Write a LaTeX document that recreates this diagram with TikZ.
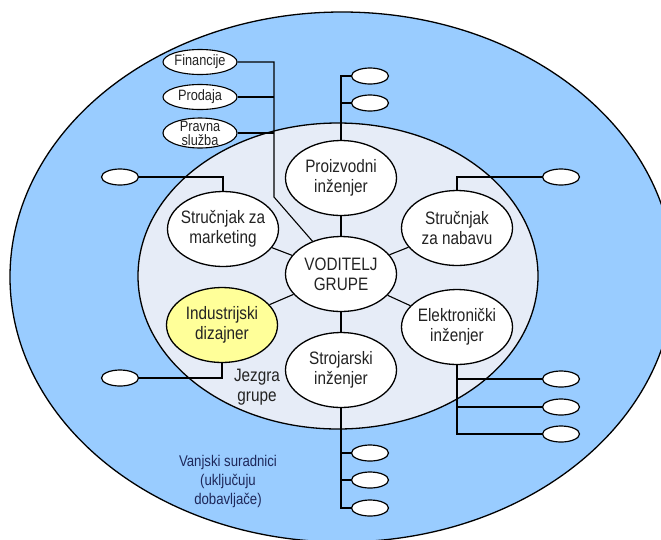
\documentclass[tikz,border=0pt]{standalone}
\usepackage{fontspec}
\setmainfont{Liberation Sans}[FakeStretch=0.85]
\usetikzlibrary{shapes.geometric}
\definecolor{outerblue}{RGB}{153,204,255}
\definecolor{innergray}{RGB}{230,236,247}
\definecolor{yell}{RGB}{255,255,153}
\definecolor{navy}{RGB}{30,40,90}
\definecolor{txt}{RGB}{35,35,35}
\begin{document}
\begin{tikzpicture}[x=1pt,y=-1pt,
  role/.style={ellipse, draw, line width=1.3pt, fill=white, minimum width=111pt, minimum height=75pt,
    inner xsep=-15pt, inner ysep=0pt, align=center, text=txt, font=\fontsize{18}{20}\selectfont},
  dept/.style={ellipse, draw, line width=1.1pt, fill=white, minimum width=74pt, minimum height=25pt,
    inner xsep=-4pt, inner ysep=-7pt, align=center, text=txt, font=\fontsize{15}{14}\selectfont},
  ext/.style={ellipse, draw, line width=1.2pt, fill=white, minimum width=37pt, minimum height=16pt, inner sep=0pt},
  link/.style={line width=1.1pt},
  lbl/.style={align=center, font=\fontsize{18}{20}\selectfont, text=txt}]
\useasboundingbox (0,0) rectangle (661,539);
\fill[white] (0,0) rectangle (661,539);
% zones
\draw[line width=1.3pt, fill=outerblue] (342,277) ellipse [x radius=332pt, y radius=265pt];
\draw[line width=1.3pt, fill=innergray] (338,276) ellipse [x radius=200pt, y radius=153pt];
% core team
\node[role] (vod) at (341,274) {VODITELJ\\GRUPE};
\node[role] (pro) at (341,178) {Proizvodni\\inženjer};
\node[role] (str) at (341,370) {Strojarski\\inženjer};
\node[role] (mark) at (223,229) {Stručnjak za\\marketing};
\node[role] (nab) at (457,228) {Stručnjak\\za nabavu};
\node[role, fill=yell] (ind) at (222,325) {Industrijski\\dizajner};
\node[role] (ele) at (457,327) {Elektronički\\inženjer};
% departments
\node[dept] (fin) at (200,62) {Financije};
\node[dept] (prod) at (200,97) {Prodaja};
\node[dept, minimum height=30pt] (prav) at (200,133) {Pravna\\služba};
% external
\node[ext] (p1) at (370,76) {};
\node[ext] (p2) at (370,103) {};
\node[ext] (sm) at (120,177) {};
\node[ext] (sn) at (561,177) {};
\node[ext] (si) at (120,378) {};
\node[ext] (st1) at (370,453) {};
\node[ext] (st2) at (370,480) {};
\node[ext] (st3) at (370,508) {};
\node[ext] (se1) at (561,379) {};
\node[ext] (se2) at (561,407) {};
\node[ext] (se3) at (561,434) {};
\coordinate (j1) at (274,197);
% labels
\node[lbl] (jez) at (257,387) {Jezgra\\grupe};
\node[align=center, font=\fontsize{15.5}{19}\selectfont, text=navy] (van) at (228,481) {Vanjski suradnici\\(uključuju\\dobavljače)};
% connectors
\draw[link] (fin.east) -| (j1) -- (vod);
\draw[link] (prod.east) -- (prod.east -| j1);
\draw[link] (prav.east) -- (prav.east -| j1);
\draw[link] (vod) -- (pro);
\draw[link] (vod) -- (str);
\draw[link] (vod) -- (mark);
\draw[link] (vod) -- (nab);
\draw[link] (vod) -- (ind);
\draw[link] (vod) -- (ele);
\draw[link] (p1.west) -| (pro.north);
\draw[link] (p2.west) -- (p2.west -| pro.north);
\draw[link] (mark.north) |- (sm.east);
\draw[link] (nab.north) |- (sn.west);
\draw[link] (ind.south) |- (si.east);
\draw[link] (str.south) |- (st3.west);
\draw[link] (st1.west) -- (st1.west -| str.south);
\draw[link] (st2.west) -- (st2.west -| str.south);
\draw[link] (ele.south) |- (se3.west);
\draw[link] (se1.west) -- (se1.west -| ele.south);
\draw[link] (se2.west) -- (se2.west -| ele.south);
\end{tikzpicture}
\end{document}
